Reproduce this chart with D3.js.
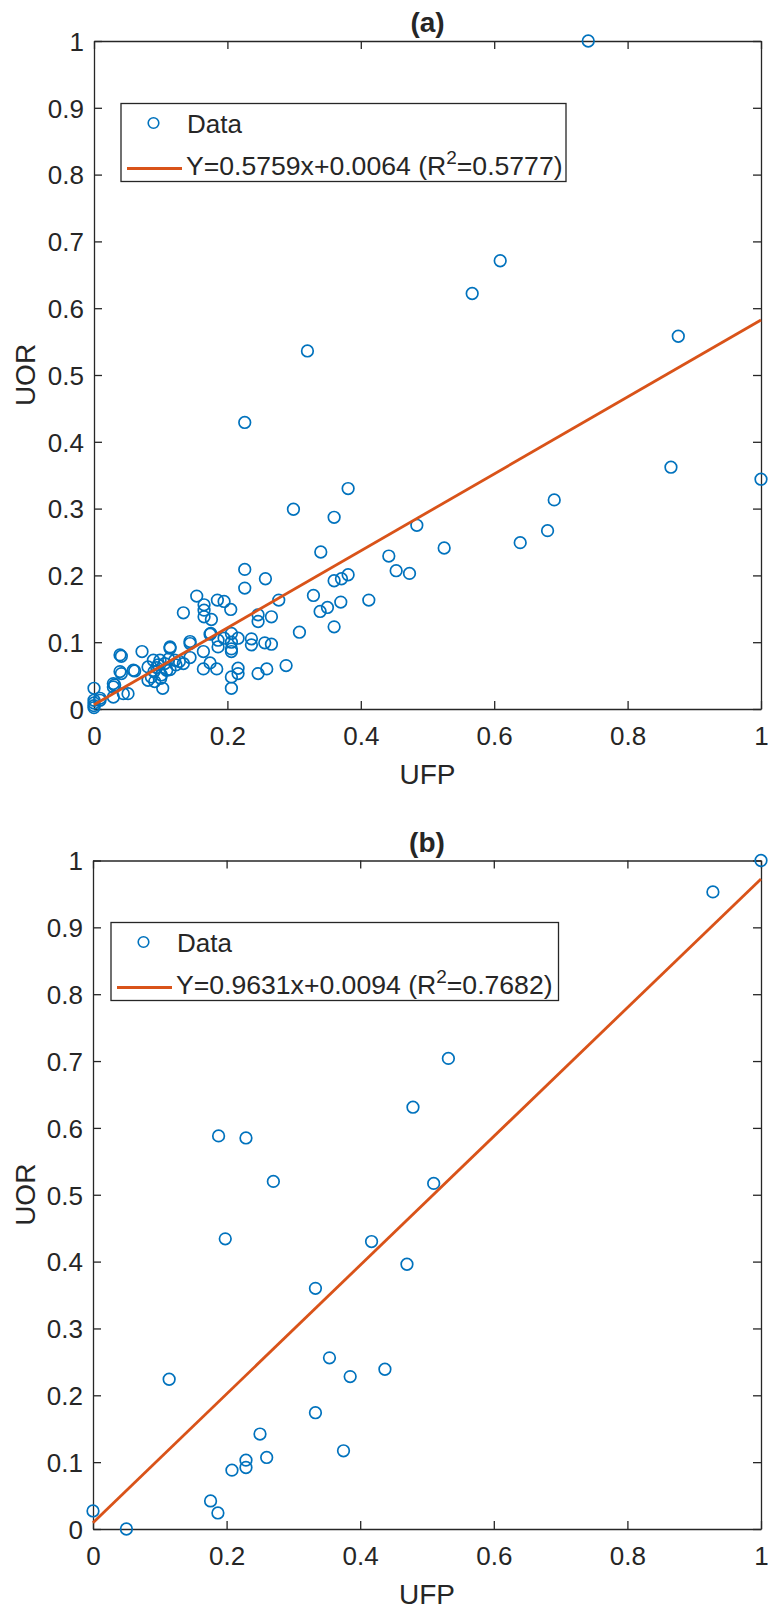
<!DOCTYPE html>
<html>
<head>
<meta charset="utf-8">
<script src="https://cdn.jsdelivr.net/npm/d3@7"></script>
<style>
  html, body { margin: 0; padding: 0; background: #fff; }
  svg { display: block; }
  text { font-family: "Liberation Sans", Arial, sans-serif; fill: #262626; }
</style>
</head>
<body>
<script>
// ---------- data ----------
const titleA = "(a)";
const titleB = "(b)";
const xLabel = "UFP";
const yLabel = "UOR";
const legendDataLabel = "Data";

const xTickValues = [0, 0.2, 0.4, 0.6, 0.8, 1];
const xTickLabels = ["0", "0.2", "0.4", "0.6", "0.8", "1"];
const yTickValues = [0, 0.1, 0.2, 0.3, 0.4, 0.5, 0.6, 0.7, 0.8, 0.9, 1];
const yTickLabels = ["0", "0.1", "0.2", "0.3", "0.4", "0.5", "0.6", "0.7", "0.8", "0.9", "1"];

// panel (a) scatter
const ufpA = [
  0.741, 0.609, 0.567, 0.876, 0.320, 0.226, 0.865, 1.000, 0.381, 0.690,
  0.299, 0.360, 0.484, 0.680, 0.639, 0.525, 0.340, 0.442, 0.226, 0.453,
  0.473, 0.381, 0.371, 0.257, 0.360, 0.226, 0.329, 0.154, 0.412, 0.277,
  0.185, 0.195, 0.370, 0.165, 0.350, 0.205, 0.165, 0.339, 0.134, 0.246,
  0.266, 0.165, 0.176, 0.246, 0.360, 0.308, 0.206, 0.174, 0.216, 0.195,
  0.236, 0.186, 0.144, 0.206, 0.256, 0.144, 0.266, 0.236, 0.186, 0.114,
  0.206, 0.206, 0.164, 0.072, 0.039, 0.144, 0.134, 0.123, 0.288, 0.174,
  0.164, 0.184, 0.216, 0.259, 0.216, 0.246, 0.206, 0.206, 0.059, 0.039,
  0.029, 0.029, 0.000, 0.044, 0.051, 0.029, 0.000, 0.009, 0.000, 0.000,
  0.000, 0.103, 0.081, 0.081, 0.089, 0.090, 0.091, 0.096, 0.099, 0.101,
  0.106, 0.109, 0.114, 0.121, 0.061, 0.041, 0.041, 0.031, 0.009, 0.114,
  0.175, 0.086, 0.094, 0.100, 0.112, 0.128
];
const uorA = [
  1.000, 0.671, 0.622, 0.558, 0.536, 0.429, 0.362, 0.344, 0.330, 0.313,
  0.299, 0.287, 0.275, 0.267, 0.249, 0.241, 0.235, 0.229, 0.209, 0.207,
  0.203, 0.201, 0.195, 0.195, 0.192, 0.181, 0.170, 0.169, 0.163, 0.163,
  0.163, 0.161, 0.160, 0.156, 0.152, 0.149, 0.148, 0.146, 0.144, 0.141,
  0.138, 0.138, 0.134, 0.131, 0.123, 0.115, 0.113, 0.112, 0.106, 0.106,
  0.105, 0.103, 0.101, 0.100, 0.099, 0.098, 0.097, 0.096, 0.093, 0.091,
  0.090, 0.086, 0.086, 0.086, 0.081, 0.077, 0.068, 0.066, 0.065, 0.069,
  0.060, 0.060, 0.061, 0.060, 0.053, 0.053, 0.048, 0.031, 0.058, 0.056,
  0.038, 0.033, 0.031, 0.023, 0.023, 0.018, 0.013, 0.013, 0.009, 0.002,
  0.005, 0.031, 0.063, 0.043, 0.073, 0.056, 0.041, 0.066, 0.073, 0.051,
  0.068, 0.058, 0.059, 0.073, 0.057, 0.079, 0.053, 0.036, 0.016, 0.093,
  0.113, 0.048, 0.062, 0.046, 0.075, 0.071
];
const slopeA = 0.5759, interceptA = 0.0064, r2A = "0.5777";

// panel (b) scatter
const ufpB = [
  1.000, 0.928, 0.532, 0.479, 0.188, 0.229, 0.270, 0.510, 0.198, 0.417,
  0.470, 0.333, 0.354, 0.437, 0.385, 0.114, 0.333, 0.250, 0.375, 0.260,
  0.229, 0.229, 0.208, 0.176, 0.187, 0.000, 0.050
];
const uorB = [
  1.000, 0.953, 0.704, 0.631, 0.588, 0.585, 0.520, 0.517, 0.434, 0.430,
  0.396, 0.360, 0.256, 0.239, 0.228, 0.224, 0.174, 0.142, 0.117, 0.107,
  0.103, 0.092, 0.088, 0.042, 0.024, 0.027, 0.000
];
const slopeB = 0.9631, interceptB = 0.0094, r2B = "0.7682";

// ---------- drawing ----------
const W = 768, H = 1609;
const svg = d3.select("body").append("svg").attr("width", W).attr("height", H);

const axisColor = "#262626";
const dataColor = "#0072BD";
const fitColor = "#D95319";

function fmtCoef(v) { return v.toFixed(4); }

function drawPanel(p) {
  const x = d3.scaleLinear().domain([0, 1]).range([p.left, p.right]);
  const y = d3.scaleLinear().domain([0, 1]).range([p.bottom, p.top]);
  const g = svg.append("g");
  const tickLen = 8;

  g.append("rect").attr("x", p.left).attr("y", p.top)
    .attr("width", p.right - p.left).attr("height", p.bottom - p.top)
    .attr("fill", "#fff");

  const xLabelMap = new Map(xTickValues.map((v, i) => [v, xTickLabels[i]]));
  const yLabelMap = new Map(yTickValues.map((v, i) => [v, yTickLabels[i]]));

  const axB = g.append("g").attr("transform", `translate(0,${p.bottom})`)
    .call(d3.axisBottom(x).tickValues(xTickValues).tickFormat(d => xLabelMap.get(d))
      .tickSizeInner(-tickLen).tickSizeOuter(0).tickPadding(17.5));
  const axT = g.append("g").attr("transform", `translate(0,${p.top})`)
    .call(d3.axisTop(x).tickValues(xTickValues).tickFormat(() => "")
      .tickSizeInner(-tickLen).tickSizeOuter(0));
  const axL = g.append("g").attr("transform", `translate(${p.left},0)`)
    .call(d3.axisLeft(y).tickValues(yTickValues).tickFormat(d => yLabelMap.get(d))
      .tickSizeInner(-tickLen).tickSizeOuter(0).tickPadding(10));
  const axR = g.append("g").attr("transform", `translate(${p.right},0)`)
    .call(d3.axisRight(y).tickValues(yTickValues).tickFormat(() => "")
      .tickSizeInner(-tickLen).tickSizeOuter(0));

  [axB, axT, axL, axR].forEach(a => {
    a.select(".domain").attr("stroke", axisColor).attr("stroke-width", 1.3);
    a.selectAll(".tick line").attr("stroke", axisColor).attr("stroke-width", 1.3);
    a.selectAll(".tick text").attr("fill", axisColor)
      .style("font-family", '"Liberation Sans", Arial, sans-serif')
      .style("font-size", "26px");
  });
  axL.selectAll(".tick text").attr("dy", "0.36em");

  g.append("text").attr("x", (p.left + p.right) / 2).attr("y", p.top - 9)
    .attr("text-anchor", "middle").style("font-size", "28px").style("font-weight", "bold")
    .text(p.title);
  g.append("text").attr("x", (p.left + p.right) / 2).attr("y", p.bottom + 75)
    .attr("text-anchor", "middle").style("font-size", "28px").text(xLabel);
  g.append("text")
    .attr("transform", `translate(35,${(p.top + p.bottom) / 2}) rotate(-90)`)
    .attr("text-anchor", "middle").style("font-size", "28px").text(yLabel);

  const pts = p.xs.map((v, i) => ({ x: v, y: p.ys[i] }));
  g.append("g").selectAll("circle").data(pts).join("circle")
    .attr("cx", d => x(d.x)).attr("cy", d => y(d.y)).attr("r", 5.8)
    .attr("fill", "none").attr("stroke", dataColor).attr("stroke-width", 1.7);

  const fitPts = x.domain().map(v => ({ x: v, y: p.slope * v + p.intercept }));
  g.append("path").datum(fitPts)
    .attr("d", d3.line().x(d => x(d.x)).y(d => y(d.y)))
    .attr("fill", "none").attr("stroke", fitColor).attr("stroke-width", 2.8);

  const L = p.legend;
  g.append("rect").attr("x", L.x).attr("y", L.y).attr("width", L.w).attr("height", L.h)
    .attr("fill", "#fff").attr("stroke", axisColor).attr("stroke-width", 1.3);
  g.append("circle").attr("cx", L.x + 32.5).attr("cy", L.y + 19.5).attr("r", 5.3)
    .attr("fill", "none").attr("stroke", dataColor).attr("stroke-width", 1.6);
  g.append("text").attr("x", L.x + 66).attr("y", L.y + 29).style("font-size", "26px")
    .text(legendDataLabel);
  g.append("line").attr("x1", L.x + 6).attr("x2", L.x + 61)
    .attr("y1", L.y + 65).attr("y2", L.y + 65)
    .attr("stroke", fitColor).attr("stroke-width", 3.2);
  const t = g.append("text").attr("x", L.x + 65).attr("y", L.y + 71).style("font-size", "26.6px");
  t.append("tspan").text(`Y=${fmtCoef(p.slope)}x+${fmtCoef(p.intercept)} (R`);
  t.append("tspan").attr("dy", -11).style("font-size", "19px").text("2");
  t.append("tspan").attr("dy", 11).text(`=${p.r2})`);
}

drawPanel({
  title: titleA, xs: ufpA, ys: uorA, slope: slopeA, intercept: interceptA, r2: r2A,
  left: 94, right: 761, top: 41, bottom: 709,
  legend: { x: 121, y: 103.5, w: 445, h: 78 }
});
drawPanel({
  title: titleB, xs: ufpB, ys: uorB, slope: slopeB, intercept: interceptB, r2: r2B,
  left: 93, right: 761, top: 860.5, bottom: 1529,
  legend: { x: 111, y: 922.5, w: 447.5, h: 78 }
});
</script>
</body>
</html>
